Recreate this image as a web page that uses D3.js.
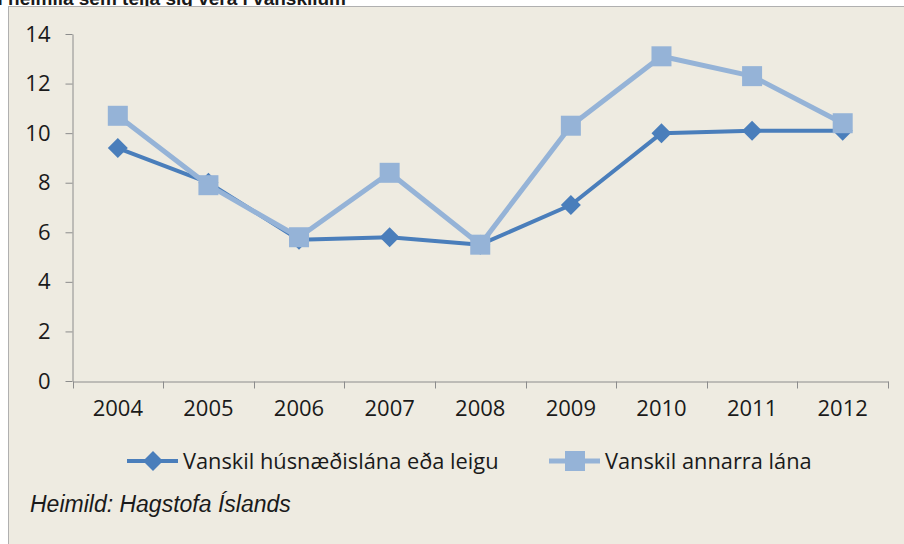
<!DOCTYPE html>
<html>
<head>
<meta charset="utf-8">
<script src="https://cdn.jsdelivr.net/npm/d3@7"></script>
<style>
  body { margin: 0; background: #fff; }
  svg { display: block; }
  text { font-family: "Open Sans", sans-serif; fill: #1a1a1a; }
</style>
</head>
<body>
<div id="chart"></div>
<script>
// data
var years = ["2004", "2005", "2006", "2007", "2008", "2009", "2010", "2011", "2012"];
var housing = [9.4, 8.0, 5.7, 5.8, 5.5, 7.1, 10.0, 10.1, 10.1];
var otherLoans = [10.7, 7.9, 5.8, 8.4, 5.5, 10.3, 13.1, 12.3, 10.4];
var yTicks = [0, 2, 4, 6, 8, 10, 12, 14];
var seriesNames = ["Vanskil húsnæðislána eða leigu", "Vanskil annarra lána"];

var W = 904, H = 544;
var darkBlue = "#4a7ebb", lightBlue = "#95b3d7", bg = "#eeebe1", axisCol = "#8c8c8c";

var svg = d3.select("#chart").append("svg")
    .attr("width", W).attr("height", H);

// title, cut off by the top of the picture as in the source
svg.append("text")
    .attr("x", 346).attr("y", 5)
    .attr("text-anchor", "end")
    .style("font-family", "'Liberation Sans', Arial, sans-serif")
    .style("font-weight", "bold")
    .style("font-size", "19px")
    .text("Hlutfall heimila sem telja sig vera í vanskilum");

// chart frame
svg.append("rect")
    .attr("x", 8.5).attr("y", 6.5)
    .attr("width", W + 10).attr("height", H + 10)
    .attr("fill", bg)
    .attr("stroke", "#b0b0b0");

var x = d3.scaleBand()
    .domain(years)
    .range([72.5, 888]);

var y = d3.scaleLinear()
    .domain([0, 14])
    .range([381, 34]);

// y axis
var yAxis = svg.append("g")
    .attr("transform", "translate(72.5,0)")
    .call(d3.axisLeft(y).tickValues(yTicks).tickSize(7).tickSizeOuter(0).tickPadding(15));
yAxis.select(".domain").attr("stroke", axisCol);
yAxis.selectAll(".tick line").attr("stroke", axisCol);
yAxis.selectAll("text")
    .style("font-size", "22px")
    .attr("fill", "#1a1a1a");

// x axis: labels centred in bands, ticks on band edges
var xAxis = svg.append("g")
    .attr("transform", "translate(0,381.5)")
    .call(d3.axisBottom(x).tickSize(0).tickSizeOuter(0).tickPadding(19));
xAxis.select(".domain").attr("stroke", axisCol);
xAxis.selectAll("text")
    .style("font-size", "22px")
    .attr("fill", "#1a1a1a");

var edges = years.map(function (d) { return x(d); }).concat([x.range()[1]]);
xAxis.selectAll(".edge")
    .data(edges)
    .enter().append("line")
    .attr("x1", function (d) { return Math.round(d) + 0.5; })
    .attr("x2", function (d) { return Math.round(d) + 0.5; })
    .attr("y1", 0).attr("y2", 7)
    .attr("stroke", axisCol);

var cx = function (d, i) { return x(years[i]) + x.bandwidth() / 2; };

var line = d3.line()
    .x(function (d, i) { return cx(d, i); })
    .y(function (d) { return y(d); });

// lines
svg.append("path")
    .datum(housing)
    .attr("d", line)
    .attr("fill", "none")
    .attr("stroke", darkBlue)
    .attr("stroke-width", 4)
    .attr("stroke-linejoin", "round");

svg.append("path")
    .datum(otherLoans)
    .attr("d", line)
    .attr("fill", "none")
    .attr("stroke", lightBlue)
    .attr("stroke-width", 5)
    .attr("stroke-linejoin", "round");

var diamond = d3.symbol().type(d3.symbolSquare).size(200);

// markers
svg.append("g").selectAll("path")
    .data(housing)
    .enter().append("path")
    .attr("d", diamond)
    .attr("transform", function (d, i) { return "translate(" + cx(d, i) + "," + y(d) + ") rotate(45)"; })
    .attr("fill", darkBlue);

svg.append("g").selectAll("rect")
    .data(otherLoans)
    .enter().append("rect")
    .attr("x", function (d, i) { return cx(d, i) - 10; })
    .attr("y", function (d) { return y(d) - 10; })
    .attr("width", 20).attr("height", 20)
    .attr("fill", lightBlue);

// legend
var legend = svg.append("g").attr("transform", "translate(0,461)");
var lx = [127, 549];
legend.selectAll("line")
    .data(lx)
    .enter().append("line")
    .attr("x1", function (d) { return d; })
    .attr("x2", function (d) { return d + 51; })
    .attr("stroke", function (d, i) { return i ? lightBlue : darkBlue; })
    .attr("stroke-width", function (d, i) { return i ? 5 : 4; });
legend.append("path")
    .attr("d", diamond)
    .attr("transform", "translate(" + (lx[0] + 26) + ",0) rotate(45)")
    .attr("fill", darkBlue);
legend.append("rect")
    .attr("x", lx[1] + 16).attr("y", -10)
    .attr("width", 20).attr("height", 20)
    .attr("fill", lightBlue);
legend.selectAll("text")
    .data(seriesNames)
    .enter().append("text")
    .attr("x", function (d, i) { return lx[i] + 56; })
    .attr("dy", "0.35em")
    .style("font-size", "21.8px")
    .text(function (d) { return d; });

// source
svg.append("text")
    .attr("x", 30).attr("y", 512)
    .style("font-family", "'Liberation Sans', Arial, sans-serif")
    .style("font-style", "italic")
    .style("font-size", "23px")
    .text("Heimild: Hagstofa Íslands");
</script>
</body>
</html>
